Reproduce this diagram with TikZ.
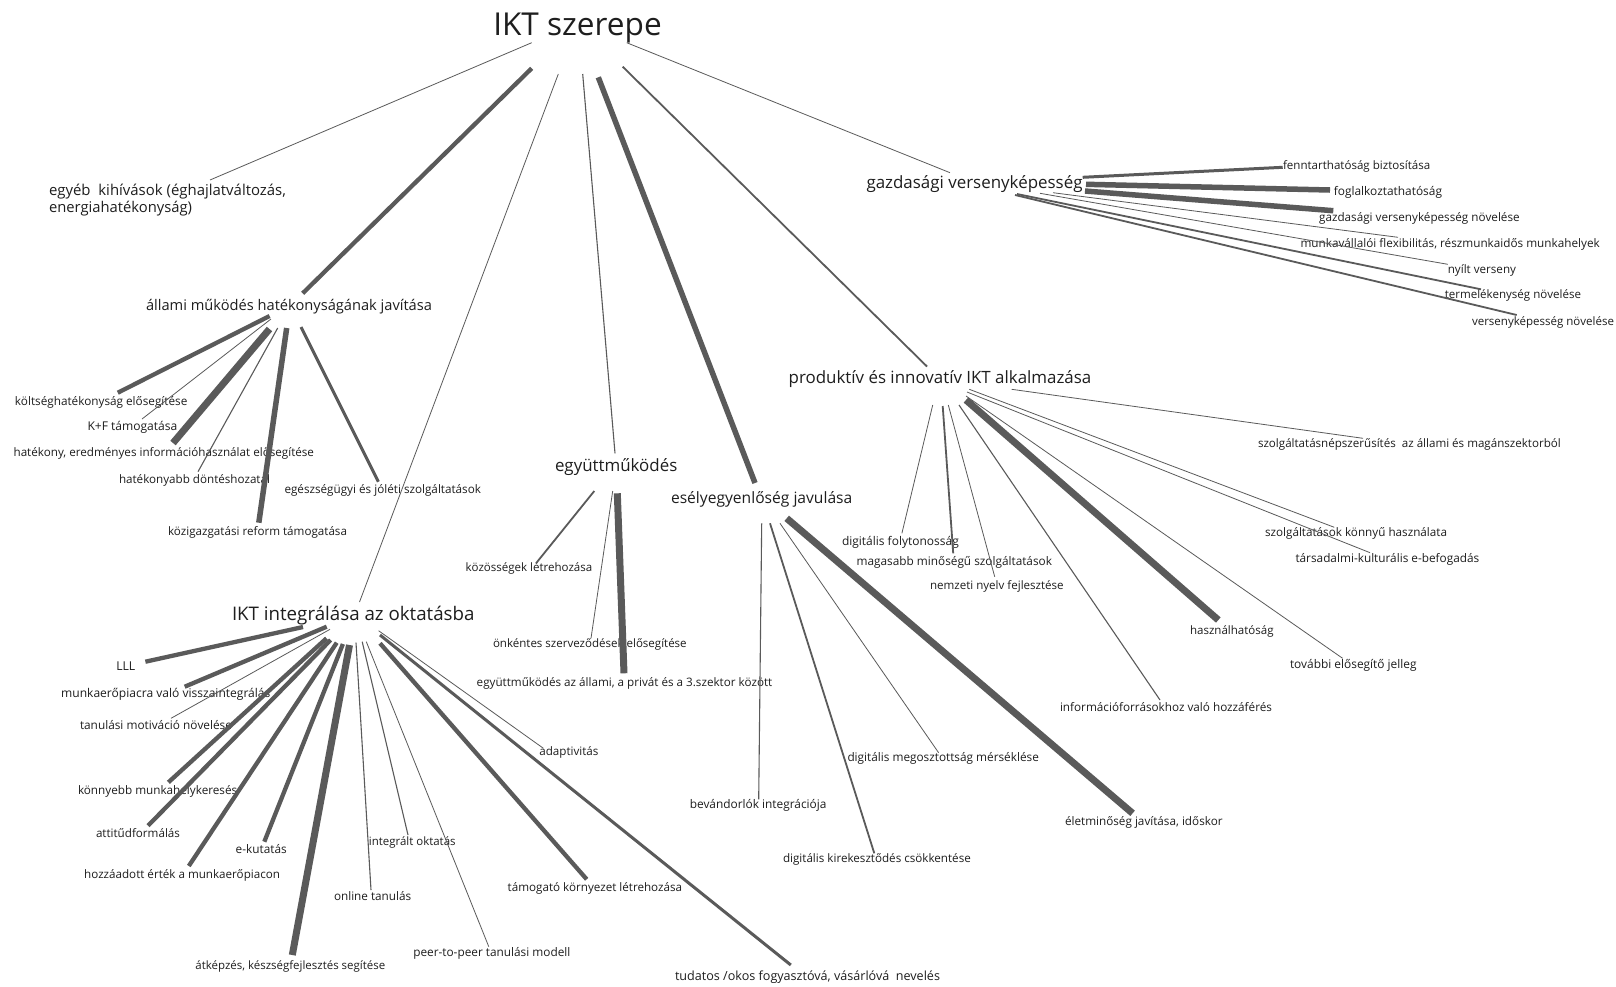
\documentclass[tikz,border=0pt]{standalone}
\usepackage{fontspec}
\setmainfont{Open Sans}
\usepackage{graphicx}
\definecolor{lc}{RGB}{90,90,90}
\definecolor{txt}{RGB}{30,30,30}
\newcommand{\fw}[2]{\resizebox{#1pt}{!}{#2}}
\newcommand{\cnx}[4]{\coordinate (#2-s) at (#3); \coordinate (#2-e) at (#4); \draw[#1] (#2-s) -- (#2-e);}
\begin{document}
\begin{tikzpicture}[x=1pt,y=-1pt,
  lbl/.style={anchor=base west,inner sep=0pt,outer sep=0pt,text=txt,font=\fontsize{11}{13}\selectfont},
  hd/.style={lbl,font=\fontsize{15}{18}\selectfont},
  ln/.style={draw=lc,line cap=butt},
  wa/.style={ln,line width=0.8pt},
  wb/.style={ln,line width=1.1pt},
  wc/.style={ln,line width=1.8pt},
  wd/.style={ln,line width=3pt},
  we/.style={ln,line width=4.3pt},
  wf/.style={ln,line width=5.5pt},
  wg/.style={ln,line width=7pt}]
\fill[white] (0,0) rectangle (1616,986);
\useasboundingbox (0,0) rectangle (1616,986);

% ---------- main and group labels ----------
\node[lbl,font=\fontsize{28}{32}\selectfont] (ikt) at (493.3,35) {\fw{168.4}{IKT szerepe}};
\node[lbl,font=\fontsize{13}{16}\selectfont] (egy1) at (49,195) {\fw{237}{egyéb~ kihívások (éghajlatváltozás,}};
\node[lbl,font=\fontsize{13}{16}\selectfont] (egy2) at (49,212) {\fw{143}{energiahatékonyság)}};
\node[hd,font=\fontsize{13}{16}\selectfont] (all) at (146,310) {\fw{286}{állami működés hatékonyságának javítása}};
\node[hd] (egyutt) at (555,471.7) {\fw{122.3}{együttműködés}};
\node[hd] (esely) at (671,503.3) {\fw{181.3}{esélyegyenlőség javulása}};
\node[hd] (prod) at (788.7,383.3) {\fw{302.6}{produktív és innovatív IKT alkalmazása}};
\node[hd] (gazd) at (866.5,188.3) {\fw{216}{gazdasági versenyképesség}};
\node[hd,font=\fontsize{16}{19}\selectfont] (okt) at (232,620) {\fw{242.5}{IKT integrálása az oktatásba}};

% ---------- állami children ----------
\node[lbl] (kolt) at (15,405) {\fw{172.4}{költséghatékonyság elősegítése}};
\node[lbl] (kf) at (87.5,430.7) {\fw{89.9}{K+F támogatása}};
\node[lbl] (hat) at (13.6,456.7) {\fw{300.4}{hatékony, eredményes információhasználat elősegítése}};
\node[lbl] (dont) at (119,483) {\fw{151}{hatékonyabb döntéshozatal}};
\node[lbl] (eg) at (284.5,493) {\fw{196.5}{egészségügyi és jóléti szolgáltatások}};
\node[lbl] (kozig) at (168,535) {\fw{179}{közigazgatási reform támogatása}};

% ---------- együttműködés children ----------
\node[lbl] (kozos) at (465.7,571.7) {\fw{126.6}{közösségek létrehozása}};
\node[lbl] (onk) at (493,647.3) {\fw{193.7}{önkéntes szerveződések elősegítése}};
\node[lbl] (eall) at (476.7,686.7) {\fw{295.6}{együttműködés az állami, a privát és a 3.szektor között}};

% ---------- esélyegyenlőség children ----------
\node[lbl] (bev) at (689.8,808.3) {\fw{136.7}{bevándorlók integrációja}};
\node[lbl] (kirek) at (783,862.7) {\fw{187.8}{digitális kirekesztődés csökkentése}};
\node[lbl] (megos) at (847.5,761.7) {\fw{191.4}{digitális megosztottság mérséklése}};
\node[lbl] (elet) at (1065,825) {\fw{157.6}{életminőség javítása, időskor}};

% ---------- produktív children ----------
\node[lbl] (nep) at (1258,447.3) {\fw{302.8}{szolgáltatásnépszerűsítés~ az állami és magánszektorból}};
\node[lbl] (foly) at (842,545) {\fw{116.8}{digitális folytonosság}};
\node[lbl] (magas) at (856.6,565) {\fw{195.4}{magasabb minőségű szolgáltatások}};
\node[lbl] (nemz) at (930,589.3) {\fw{133.7}{nemzeti nyelv fejlesztése}};
\node[lbl] (konny) at (1265,536.5) {\fw{182}{szolgáltatások könnyű használata}};
\node[lbl] (tars) at (1295.5,562) {\fw{183.8}{társadalmi-kulturális e-befogadás}};
\node[lbl] (hasz) at (1190,634) {\fw{83.6}{használhatóság}};
\node[lbl] (tov) at (1290,668.3) {\fw{126.6}{további elősegítő jelleg}};
\node[lbl] (info) at (1060,711) {\fw{212}{információforrásokhoz való hozzáférés}};

% ---------- gazdasági children ----------
\node[lbl] (fennt) at (1283,169) {\fw{147.2}{fenntarthatóság biztosítása}};
\node[lbl] (fogl) at (1333.8,195) {\fw{108.2}{foglalkoztathatóság}};
\node[lbl] (gnov) at (1319.2,221.7) {\fw{200.4}{gazdasági versenyképesség növelése}};
\node[lbl] (munk) at (1300.5,247.3) {\fw{299.2}{munkavállalói flexibilitás, részmunkaidős munkahelyek}};
\node[lbl] (nyilt) at (1447.8,273.3) {\fw{68.2}{nyílt verseny}};
\node[lbl] (term) at (1444.8,298.3) {\fw{136.2}{termelékenység növelése}};
\node[lbl] (vnov) at (1472,325) {\fw{142}{versenyképesség növelése}};

% ---------- oktatás children ----------
\node[lbl] (lll) at (116.3,670) {\fw{19}{LLL}};
\node[lbl] (mvissz) at (61.2,697.3) {\fw{209.2}{munkaerőpiacra való visszaintegrálás}};
\node[lbl] (tanm) at (80,729) {\fw{152}{tanulási motiváció növelése}};
\node[lbl] (konnyebb) at (78,794.3) {\fw{159.2}{könnyebb munkahelykeresés}};
\node[lbl] (att) at (96,837.3) {\fw{84}{attitűdformálás}};
\node[lbl] (ekut) at (235.7,853.3) {\fw{51}{e-kutatás}};
\node[lbl] (hozza) at (84.2,878.3) {\fw{195.8}{hozzáadott érték a munkaerőpiacon}};
\node[lbl] (integ) at (368.9,845) {\fw{86.7}{integrált oktatás}};
\node[lbl] (onl) at (334,900.7) {\fw{77.2}{online tanulás}};
\node[lbl] (tamog) at (507.7,891) {\fw{174.4}{támogató környezet létrehozása}};
\node[lbl] (peer) at (413.3,956.7) {\fw{157.1}{peer-to-peer tanulási modell}};
\node[lbl] (atk) at (195.4,969.3) {\fw{189.8}{átképzés, készségfejlesztés segítése}};
\node[lbl] (adapt) at (539.3,755.7) {\fw{59.2}{adaptivitás}};
\node[lbl] (tud) at (675,980) {\fw{265}{tudatos /okos fogyasztóvá, vásárlóvá~ nevelés}};

% ---------- connectors from the title ----------
\cnx{wa}{t-egy}{531.7,42.7}{210,180}
\cnx{we}{t-all}{531.7,68.3}{302.7,293.3}
\cnx{wa}{t-okt}{558.3,74}{359.5,602}
\cnx{wb}{t-egyutt}{582.7,74}{615,453.3}
\cnx{wf}{t-esely}{598.3,77.3}{755,483}
\cnx{wc}{t-prod}{622.7,66.7}{927,366.5}
\cnx{wa}{t-gazd}{626.7,42.7}{950,172.7}

% ---------- állami ----------
\cnx{we}{a-kolt}{269.6,316}{117.8,392.7}
\cnx{wa}{a-kf}{271,319}{142,419}
\cnx{wg}{a-hat}{269.5,329}{173,443}
\cnx{wb}{a-dont}{277.7,328}{198,471.7}
\cnx{wf}{a-kozig}{286.7,328}{258.8,522.7}
\cnx{wd}{a-eg}{301,327}{378.4,481.7}

% ---------- együttműködés ----------
\cnx{wc}{e-kozos}{594.3,491}{536,563.3}
\cnx{wa}{e-onk}{612.7,491}{591,638.3}
\cnx{wg}{e-eall}{617.3,493.3}{624,673.3}

% ---------- esélyegyenlőség ----------
\cnx{wb}{s-bev}{761.7,523.3}{758.7,799.3}
\cnx{wc}{s-kirek}{770,523.3}{874.3,853.3}
\cnx{wa}{s-megos}{780,523.3}{938.6,752.7}
\cnx{wg}{s-elet}{786.7,518.3}{1132.6,813.3}

% ---------- produktív ----------
\cnx{wa}{p-foly}{932.7,405}{901.9,533.3}
\cnx{wc}{p-magas}{942.7,406}{953.2,553.3}
\cnx{wa}{p-nemz}{948.3,405}{994.7,576.7}
\cnx{wb}{p-info}{959,405}{1160,700}
\cnx{wg}{p-hasz}{966,400}{1218.3,620}
\cnx{wa}{p-tov}{966,396}{1342.6,658.3}
\cnx{wa}{p-konny}{969.3,389.3}{1334.3,527.3}
\cnx{wa}{p-tars}{967,392}{1370,552.7}
\cnx{wa}{p-nep}{1011.7,389.3}{1363,438.3}

% ---------- gazdasági ----------
\cnx{wd}{g-fennt}{1082.7,177.3}{1282.7,167.3}
\cnx{wf}{g-fogl}{1086,184.3}{1330,190}
\cnx{wf}{g-gnov}{1085,191}{1333.3,210.7}
\cnx{wa}{g-munk}{1053,192.7}{1398,237.3}
\cnx{wa}{g-nyilt}{1040,193.3}{1447.8,264.3}
\cnx{wc}{g-term}{1017,194}{1481,289.3}
\cnx{wc}{g-vnov}{1015,195}{1516.7,315}

% ---------- oktatás ----------
\cnx{we}{o-lll}{303,627}{145.4,661.7}
\cnx{we}{o-mvissz}{326.7,626.7}{184.7,686.7}
\cnx{wa}{o-tanm}{330,629.3}{171,718.3}
\cnx{we}{o-konnyebb}{326.5,638.3}{168.4,782.3}
\cnx{we}{o-att}{330.6,640}{148,825.7}
\cnx{we}{o-hozza}{336.7,642.7}{188.8,866}
\cnx{we}{o-ekut}{342.9,644}{264.3,841.7}
\cnx{wg}{o-atk}{349.5,645}{292.3,955}
\cnx{wb}{o-onl}{356,642.7}{371,890}
\cnx{wb}{o-integ}{362.2,641.7}{408,835}
\cnx{wa}{o-peer}{366.3,641.7}{488.8,946.7}
\cnx{we}{o-tamog}{380,643.3}{586.7,879.3}
\cnx{wd}{o-tud}{380,635}{790.8,965}
\cnx{wa}{o-adapt}{378.6,630.7}{543.4,748.3}
\end{tikzpicture}
\end{document}
